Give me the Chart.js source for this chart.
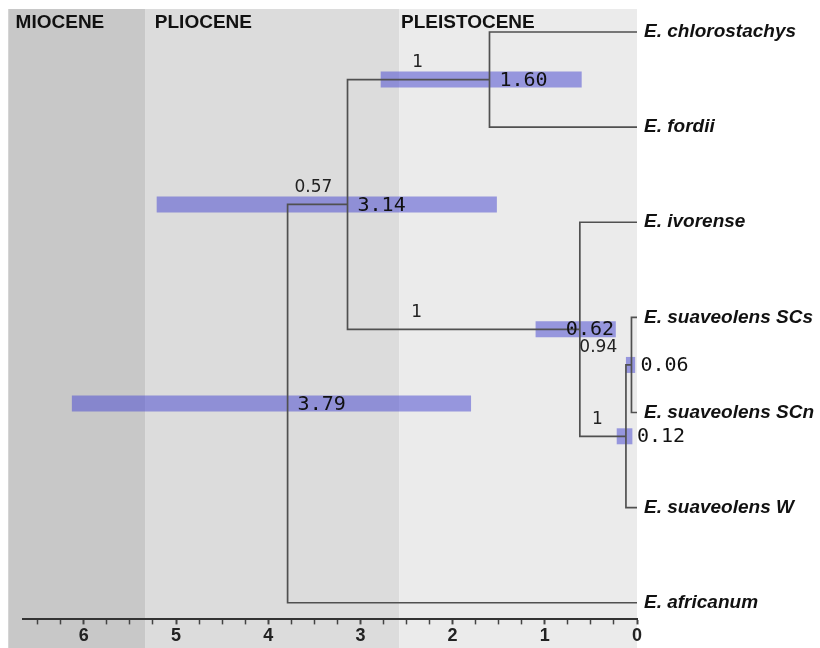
<!DOCTYPE html>
<html lang="en">
<head>
    <meta charset="UTF-8">
    <title>Dated tree</title>
    <script src="https://cdn.jsdelivr.net/npm/chart.js"></script>
    <style>
        body { margin: 0; background: #fff; }
        .chart-container { width: 820px; height: 648px; position: relative; }
    </style>
</head>
<body>
    <div class="chart-container">
        <canvas id="treeChart"></canvas>
    </div>

    <script>
        // epochs (Ma)
        const epochNames = ['MIOCENE', 'PLIOCENE', 'PLEISTOCENE'];
        const epochOld = [6.82, 5.33, 2.58];
        const epochYoung = [5.33, 2.58, 0];
        const epochLabelAt = [6.74, 5.23, 2.56];
        const epochColors = ['#c8c8c8', '#dcdcdc', '#ebebeb'];

        // tips, top to bottom
        const tips = ['E. chlorostachys', 'E. fordii', 'E. ivorense', 'E. suaveolens SCs',
                      'E. suaveolens SCn', 'E. suaveolens W', 'E. africanum'];

        // internal nodes
        const nodeChildren = [['t0', 't1'], ['t3', 't4'], ['n1', 't5'], ['t2', 'n2'], ['n0', 'n3'], ['n4', 't6']];
        const nodeAge = [1.60, 0.06, 0.12, 0.62, 3.14, 3.79];
        const hpdLow = [0.60, 0.02, 0.05, 0.23, 1.52, 1.80];
        const hpdHigh = [2.78, 0.12, 0.22, 1.10, 5.21, 6.13];
        const posterior = ['1', '0.94', '1', '1', '0.57', ''];
        const posteriorAt = [2.38, 0.42, 0.43, 2.39, 3.51, null];

        // axis ticks
        const majorTicks = [0, 1, 2, 3, 4, 5, 6];
        const minorTicks = [0.25, 0.5, 0.75, 1.25, 1.5, 1.75, 2.25, 2.5, 2.75, 3.25, 3.5, 3.75,
                            4.25, 4.5, 4.75, 5.25, 5.5, 5.75, 6.25, 6.5];

        const ageOf = id => id[0] === 't' ? 0 : nodeAge[+id.slice(1)];
        const rowOf = id => {
            if (id[0] === 't') return +id.slice(1);
            const ch = nodeChildren[+id.slice(1)];
            return (rowOf(ch[0]) + rowOf(ch[1])) / 2;
        };

        const datasets = [];
        nodeChildren.forEach((ch, i) => {
            const a = ageOf(ch[0]), b = ageOf(ch[1]);
            const ya = rowOf(ch[0]), yb = rowOf(ch[1]);
            datasets.push({
                data: [{x: a, y: ya}, {x: nodeAge[i], y: ya}, {x: nodeAge[i], y: yb}, {x: b, y: yb}],
                showLine: true, borderColor: '#505050', borderWidth: 1.7, pointRadius: 0,
                borderJoinStyle: 'miter', order: 1, clip: false
            });
        });
        nodeAge.forEach((age, i) => {
            const y = rowOf('n' + i);
            datasets.push({
                data: [{x: hpdLow[i], y: y}, {x: hpdHigh[i], y: y}],
                showLine: true, borderColor: 'rgba(80, 80, 210, 0.55)', borderWidth: 16,
                borderCapStyle: 'butt', pointRadius: 0, order: 2, clip: false
            });
        });

        const ageLabelDx = [10, 9, 11, -14, 10, 10];

        const treePlugin = {
            id: 'tree',
            beforeDraw(chart) {
                const {ctx, chartArea, scales: {x}} = chart;
                ctx.save();
                ctx.fillStyle = '#fff';
                ctx.fillRect(0, 0, chart.width, chart.height);
                epochNames.forEach((n, i) => {
                    const x0 = x.getPixelForValue(epochOld[i]);
                    const x1 = x.getPixelForValue(epochYoung[i]);
                    ctx.fillStyle = epochColors[i];
                    ctx.fillRect(x0, chartArea.top, x1 - x0, chart.height - chartArea.top);
                });
                ctx.restore();
            },
            afterDatasetsDraw(chart) {
                const {ctx, chartArea, scales: {x, y}} = chart;
                ctx.save();
                // epoch names
                ctx.fillStyle = '#111';
                ctx.font = 'bold 19px "Liberation Sans", Arial, sans-serif';
                ctx.textAlign = 'left';
                ctx.textBaseline = 'alphabetic';
                epochNames.forEach((n, i) => {
                    ctx.fillText(n, x.getPixelForValue(epochLabelAt[i]), chartArea.top + 19);
                });
                // tip names
                ctx.font = 'italic bold 19px "Liberation Sans", Arial, sans-serif';
                ctx.textBaseline = 'middle';
                tips.forEach((t, i) => {
                    ctx.fillText(t, x.getPixelForValue(0) + 7, y.getPixelForValue(i));
                });
                // node ages
                ctx.font = '20px "DejaVu Sans Mono", monospace';
                nodeAge.forEach((a, i) => {
                    ctx.fillText(a.toFixed(2), x.getPixelForValue(a) + ageLabelDx[i],
                                 y.getPixelForValue(rowOf('n' + i)) + 1);
                });
                // posterior
                ctx.font = '17px "DejaVu Sans", sans-serif';
                ctx.fillStyle = '#222';
                ctx.textAlign = 'center';
                posterior.forEach((p, i) => {
                    if (!p) return;
                    ctx.fillText(p, x.getPixelForValue(posteriorAt[i]),
                                 y.getPixelForValue(rowOf('n' + i)) - 17);
                });
                ctx.restore();
            }
        };

        new Chart(document.getElementById('treeChart'), {
            type: 'scatter',
            data: { datasets: datasets },
            options: {
                responsive: true,
                maintainAspectRatio: false,
                animation: false,
                layout: { padding: { left: 23, right: 183, top: 9, bottom: 0 } },
                plugins: { legend: { display: false }, tooltip: { enabled: false } },
                scales: {
                    x: {
                        type: 'linear',
                        reverse: true,
                        min: 0,
                        max: 6.66,
                        afterBuildTicks: scale => {
                            scale.ticks = majorTicks.concat(minorTicks).sort((a, b) => a - b)
                                .map(v => ({value: v}));
                        },
                        border: { display: true, color: '#333', width: 2 },
                        grid: {
                            drawOnChartArea: false,
                            drawTicks: true,
                            tickLength: 5,
                            tickColor: '#444',
                            tickWidth: c => majorTicks.includes(c.tick.value) ? 2 : 1.5
                        },
                        ticks: {
                            autoSkip: false,
                            maxRotation: 0,
                            padding: 1,
                            color: '#222',
                            font: { family: '"Liberation Sans", Arial, sans-serif', size: 18, weight: 'bold' },
                            callback: v => majorTicks.includes(v) ? String(v) : ''
                        }
                    },
                    y: {
                        type: 'linear',
                        display: false,
                        reverse: true,
                        min: -0.242,
                        max: 6.175
                    }
                }
            },
            plugins: [treePlugin]
        });
    </script>
</body>
</html>
